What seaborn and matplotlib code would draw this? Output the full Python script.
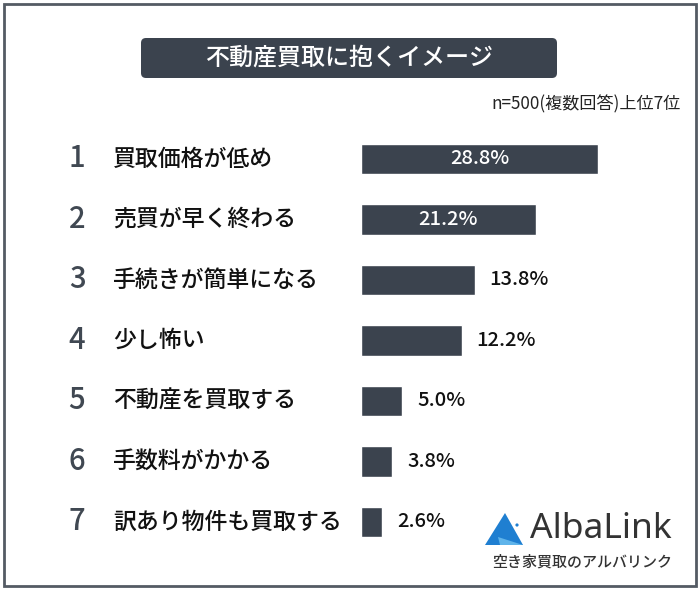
import seaborn as sns
import matplotlib.pyplot as plt
import matplotlib.transforms as mtransforms
from matplotlib.patches import FancyBboxPatch, Rectangle, Polygon, Circle

ranks = ["1", "2", "3", "4", "5", "6", "7"]
labels = ["買取価格が低め", "売買が早く終わる", "手続きが簡単になる", "少し怖い",
          "不動産を買取する", "手数料がかかる", "訳あり物件も買取する"]
values = [28.8, 21.2, 13.8, 12.2, 5.0, 3.8, 2.6]

title = "不動産買取に抱くイメージ"
note = "n=500(複数回答)上位7位"

sns.set_style("white")
plt.rcParams["font.family"] = ["Noto Sans CJK JP", "DejaVu Sans"]

dark = "#3b434e"

fig = plt.figure(figsize=(7, 5.9), dpi=100)

# overlay for frame, title box and logo (pixel coordinates)
bg = fig.add_axes([0, 0, 1, 1])
bg.set_xlim(0, 700)
bg.set_ylim(590, 0)
bg.axis("off")
bg.add_patch(Rectangle((4, 4), 692, 582, fill=False, edgecolor="#545b64", linewidth=2))
bg.add_patch(FancyBboxPatch((141, 38), 416, 40, boxstyle="round,pad=0,rounding_size=5",
                            facecolor=dark, edgecolor="none"))
bg.text(349, 58, title, color="white", fontsize=17.3, ha="center", va="center",
        fontweight="medium")
bg.text(681, 104, note, color="#222222", fontsize=12.3, ha="right", va="center")

# logo
bg.add_patch(Polygon([(505, 513), (485, 545), (523, 545)], closed=True,
                     facecolor="#1f7fd1", edgecolor="none"))
bg.add_patch(Polygon([(498, 537), (523, 545), (500, 545)], closed=True,
                     facecolor="#5fb4ea", edgecolor="none"))
bg.add_patch(Circle((517, 525), 1.6, facecolor="#1f7fd1", edgecolor="none"))
bg.text(530, 529, "AlbaLink", color="#333333", fontsize=25.5, ha="left", va="center",
        family=["Noto Sans", "DejaVu Sans"], fontweight="medium")
bg.text(582, 562, "空き家買取のアルバリンク", color="#333333", fontsize=10.8,
        ha="center", va="center", fontweight="medium")

# bar chart
ax = fig.add_axes([361 / 700, 0.064, 329 / 700, 0.7178])
sns.barplot(x=values, y=labels, orient="h", color=dark, saturation=1,
            width=0.5, ax=ax)
ax.set_xlim(0, 329 / 8.24)
ax.set_ylim(6.5, -0.5)
ax.set_xticks([])
ax.set_yticks([])
ax.set_xlabel("")
ax.set_ylabel("")
sns.despine(ax=ax, left=True, bottom=True)
ax.patch.set_alpha(0)

for i, v in enumerate(values):
    if v > 20:
        ax.text(v / 2, i, f"{v:.1f}%", color="white", fontsize=14.5,
                ha="center", va="center", fontweight="medium")
    else:
        ax.text(v + 1.8, i, f"{v:.1f}%", color="#111111", fontsize=14.5,
                ha="left", va="center", fontweight="medium")

trans = mtransforms.blended_transform_factory(fig.transFigure, ax.transData)
for i, (r, lab) in enumerate(zip(ranks, labels)):
    ax.text(77 / 700, i, r, transform=trans, color="#404852", fontsize=21,
            ha="center", va="center", clip_on=False, fontweight="medium")
    ax.text(113 / 700, i, lab, transform=trans, color="#111111", fontsize=16.5,
            ha="left", va="center", clip_on=False, fontweight="medium")

fig.savefig("out.png", dpi=100)
